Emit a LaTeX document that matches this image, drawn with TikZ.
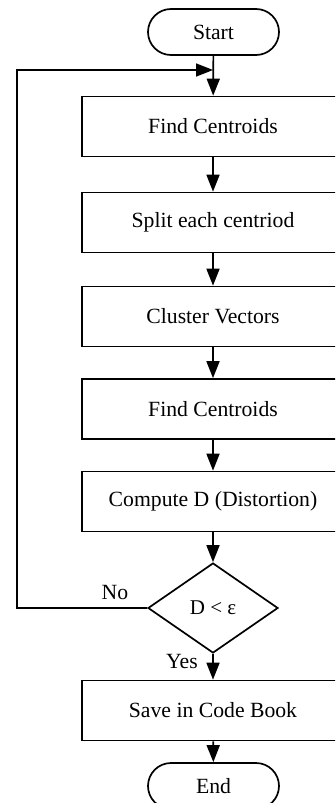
\documentclass[tikz,border=0pt]{standalone}
\usepackage{fontspec}
\setmainfont{Liberation Serif}
\usetikzlibrary{arrows.meta,shapes.geometric}
\begin{document}
\begin{tikzpicture}[x=1pt,y=-1pt,
  every node/.style={font=\fontsize{21.7}{26}\selectfont},
  procbox/.style={draw,line width=1.7pt,minimum width=262pt,minimum height=60pt,inner sep=0pt},
  termbox/.style={draw,line width=1.7pt,rounded corners=23pt,minimum width=131pt,minimum height=46pt,inner sep=0pt},
  decbox/.style={draw,diamond,line width=1.7pt,minimum width=130pt,minimum height=90pt,inner sep=0pt},
  flow/.style={line width=1.7pt,-{Triangle[length=17pt,width=13pt]}},
  lbl/.style={inner sep=0pt}]
\useasboundingbox (0,0) rectangle (335,803);
\clip (0,0) rectangle (335,803);
\node[termbox] (start) at (213.5,32) {Start};
\node[procbox] (b1) at (213,126.5) {Find Centroids};
\node[procbox] (b2) at (213,222.5) {Split each centriod};
\node[procbox] (b3) at (213,316.5) {Cluster Vectors};
\node[procbox] (b4) at (213,409) {Find Centroids};
\node[procbox] (b5) at (213,501.5) {Compute D (Distortion)};
\node[decbox,font=\fontsize{21}{25}\selectfont] (dec) at (213,608) {D < ε};
\node[procbox] (save) at (213,710.5) {Save in Code Book};
\node[termbox] (end) at (213.5,786) {End};
\coordinate (join) at (213,70);
\coordinate (loopc) at (17,70);
\draw[flow] (start) -- (b1);
\draw[flow] (b1) -- (b2);
\draw[flow] (b2) -- (b3);
\draw[flow] (b3) -- (b4);
\draw[flow] (b4) -- (b5);
\draw[flow] (b5) -- (dec);
\draw[flow] (dec) -- (save);
\draw[flow] (save) -- (end);
\draw[flow] (dec.west) -| (loopc) -- (join);
\node[lbl] (no) at (115,592) {No};
\node[lbl] (yes) at (182,661) {Yes};
\end{tikzpicture}
\end{document}
